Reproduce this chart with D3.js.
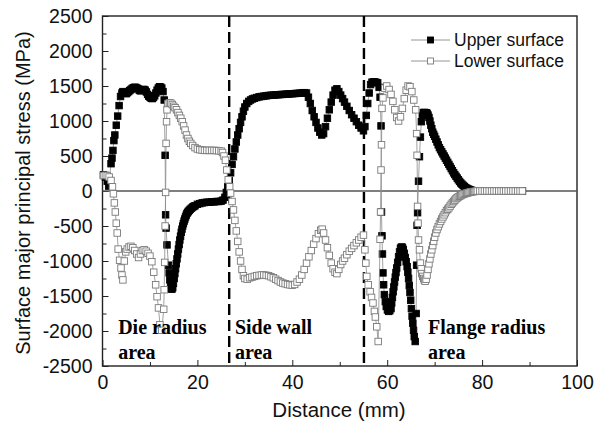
<!DOCTYPE html>
<html>
<head>
<meta charset="utf-8">
<script src="https://cdn.jsdelivr.net/npm/d3@7"></script>
<style>
  html, body { margin: 0; padding: 0; background: #fff; }
  svg { display: block; }
</style>
</head>
<body>
<svg id="chart" width="605" height="430"></svg>
<script>
// distance (mm), stress (MPa)
const upperSurface = [
  [0.2,230],[0.6,200],[1.0,140],[1.3,70],
  [1.8,390],[2.0,470],[2.2,580],[2.4,720],[2.6,800],[2.9,940],[3.2,1070],[3.5,1220],[3.8,1350],[4.1,1400],
  [4.3,1420],[4.5,1410],[4.75,1395],[5.0,1390],[5.25,1405],[5.5,1420],[5.75,1435],[6.0,1450],[6.25,1465],
  [6.5,1475],[6.75,1482],[7.0,1480],[7.25,1470],[7.5,1460],[7.75,1440],[8.0,1430],[8.25,1440],[8.5,1450],
  [8.75,1450],[9.0,1440],[9.25,1415],[9.5,1380],[9.75,1355],[10.0,1340],[10.25,1325],[10.5,1320],
  [10.75,1335],[11.0,1360],[11.25,1400],[11.5,1440],[11.75,1470],[12.0,1490],[12.25,1485],[12.5,1470],
  [12.75,1420],[13.0,1300],
  [13.2,510],[13.3,-340],[13.4,-530],[13.6,-770],[13.9,-1060],[14.05,-1170],[14.2,-1270],[14.35,-1340],
  [14.5,-1400],[14.65,-1400],[14.8,-1380],[14.95,-1320],[15.1,-1250],[15.25,-1180],[15.4,-1110],
  [15.55,-1040],[15.7,-970],[15.85,-900],[16.0,-830],[16.15,-765],[16.3,-700],[16.45,-645],[16.6,-590],
  [16.75,-545],[16.9,-500],[17.05,-465],[17.2,-430],[17.35,-400],[17.5,-370],[17.65,-345],[17.8,-320],
  [17.95,-305],[18.1,-290],[18.3,-275],[18.5,-260],[18.75,-245],[19.0,-230],[19.25,-220],[19.5,-210],
  [20.0,-190],[20.5,-180],
  [21.0,-170],[21.5,-165],[22.0,-160],[22.5,-160],[23.0,-155],[23.5,-155],[24.0,-150],[24.5,-150],
  [25.0,-145],[25.4,-130],[25.8,-90],[26.1,-20],[26.4,60],[26.7,150],[27.0,260],[27.3,380],[27.6,490],
  [27.9,600],[28.2,700],[28.5,800],[28.8,890],[29.1,980],[29.4,1060],[29.7,1140],[30.0,1200],[30.4,1250],
  [30.8,1280],[31.2,1300],[31.6,1315],[32.0,1325],[32.5,1335],[33.0,1345],[33.5,1350],[34.0,1355],
  [34.5,1360],[35.0,1365],[35.5,1368],[36.0,1370],[36.5,1373],[37.0,1375],[37.5,1378],[38.0,1380],
  [38.5,1382],[39.0,1385],[39.5,1388],[40.0,1390],[40.5,1392],[41.0,1395],[41.5,1397],[42.0,1400],
  [42.5,1405],[43.0,1400],[43.4,1340],[43.8,1250],[44.2,1150],[44.6,1060],[45.0,980],[45.4,900],
  [45.8,840],[46.2,800],[46.6,820],[47.0,920],[47.4,1040],[47.8,1160],[48.2,1270],[48.6,1370],[49.0,1440],
  [49.4,1460],[49.8,1420],[50.2,1370],[50.6,1320],[51.0,1270],[51.5,1210],[52.0,1150],[52.5,1090],
  [53.0,1040],[53.5,990],[54.0,940],[54.5,900],[55.0,860],[55.3,920],[55.6,1080],[55.9,1250],[56.2,1400],
  [56.5,1520],[56.8,1555],[57.2,1560],[57.6,1555],[58.0,1545],[58.3,1480],[58.5,1340],[58.7,930],
  [58.8,-300],[58.9,-640],[59.0,-900],[59.1,-1170],[59.25,-1340],[59.4,-1480],[59.6,-1580],[59.8,-1650],
  [60.05,-1700],[60.3,-1720],[60.55,-1710],[60.8,-1680],[60.95,-1600],[61.1,-1520],[61.25,-1440],
  [61.4,-1370],[61.55,-1300],[61.7,-1230],[61.85,-1165],[62.0,-1100],[62.2,-1020],[62.4,-940],
  [62.6,-870],[62.8,-820],[62.95,-805],[63.1,-800],[63.25,-815],[63.4,-840],[63.6,-890],[63.8,-950],
  [64.0,-1010],[64.2,-1080],[64.35,-1160],[64.5,-1250],[64.65,-1350],[64.8,-1450],[64.95,-1560],
  [65.1,-1680],[65.25,-1790],[65.4,-1890],[65.55,-1990],[65.7,-2080],[65.9,-2150],
  [66.1,-1750],[66.2,-1060],[66.3,-490],[66.4,-310],[66.6,140],[66.8,490],[67.0,770],[67.2,990],
  [67.4,1080],[67.6,1120],[67.8,1122],[68.0,1120],[68.2,1118],[68.4,1110],[68.6,1085],[68.8,1050],
  [69.0,1000],[69.2,940],[69.4,890],[69.6,840],[69.8,810],[70.0,780],[70.25,740],[70.5,700],[70.75,660],
  [71.0,620],[71.25,590],[71.5,560],[71.75,530],[72.0,500],[72.25,470],[72.5,440],[72.75,410],[73.0,380],
  [73.25,350],[73.5,320],[73.75,290],[74.0,260],[74.25,235],[74.5,210],[74.75,185],[75.0,160],
  [75.25,137],[75.5,115],[75.75,97],[76.0,80],[76.25,65],[76.5,50],[76.75,40],[77.0,30],[77.25,22],
  [77.5,15],[77.75,10],[78.0,5],[78.25,2],[78.5,0],[79.5,0],[80.5,0],[81.5,0],[82.5,0],
  [83.5,0],[84.5,0],[85.5,0],[86.5,0],[87.5,0],[88.5,0]
];

const lowerSurface = [
  [0.2,220],[0.6,225],[1.0,220],[1.4,200],[1.8,150],[2.1,60],[2.3,-40],[2.5,-170],[2.7,-300],[2.9,-460],
  [3.1,-600],[3.3,-830],[3.6,-990],[3.9,-1100],[4.1,-1200],[4.3,-1270],[4.6,-1000],[4.9,-870],[5.2,-830],
  [5.6,-800],[6.0,-790],[6.4,-810],[6.8,-850],[7.2,-900],[7.6,-950],[8.0,-900],[8.4,-850],[8.8,-840],
  [9.2,-860],[9.6,-890],[10.0,-930],[10.4,-1010],[10.8,-1160],[11.2,-1340],[11.5,-1510],[11.8,-1670],
  [12.1,-1910],[12.5,-1990],[12.9,-1690],[13.0,-1410],[13.1,-1020],[13.2,-500],[13.3,-20],[13.4,680],
  [13.5,990],[13.6,1160],[13.8,1250],[14.1,1260],[14.4,1255],[14.7,1235],[15.0,1210],[15.3,1190],
  [15.6,1160],[15.9,1120],[16.2,1080],[16.5,1040],[16.8,990],[17.1,930],[17.4,870],[17.7,800],[18.0,750],
  [18.3,710],[18.6,680],[19.0,650],[19.5,620],[20.0,600],[20.5,590],[21.0,585],[21.5,580],[22.0,580],
  [22.5,580],[23.0,580],[23.5,580],[24.0,578],[24.5,575],[25.0,570],[25.3,550],[25.6,500],[25.9,440],
  [26.2,300],[26.5,160],[26.8,60],[27.0,-30],[27.3,-150],[27.6,-270],[27.9,-420],[28.2,-570],[28.5,-720],
  [28.8,-870],[29.1,-1000],[29.4,-1120],[29.7,-1210],[30.0,-1250],[30.5,-1260],[31.0,-1240],[31.5,-1230],
  [32.0,-1220],[32.5,-1210],[33.0,-1205],[33.5,-1200],[34.0,-1200],[34.5,-1205],[35.0,-1210],
  [35.5,-1225],[36.0,-1240],[36.5,-1260],[37.0,-1280],[37.5,-1300],[38.0,-1315],[38.5,-1325],
  [39.0,-1335],[39.5,-1340],[40.0,-1345],[40.5,-1335],[41.0,-1300],[41.5,-1260],[42.0,-1200],
  [42.5,-1120],[43.0,-1030],[43.5,-940],[44.0,-850],[44.5,-760],[45.0,-680],[45.5,-610],[46.0,-560],
  [46.3,-545],[46.6,-600],[47.0,-700],[47.4,-810],[47.8,-920],[48.2,-1030],[48.6,-1110],[49.0,-1160],
  [49.4,-1180],[49.8,-1120],[50.2,-1050],[50.6,-1000],[51.0,-960],[51.5,-910],[52.0,-860],[52.5,-820],
  [53.0,-780],[53.5,-740],[54.0,-700],[54.5,-660],[55.0,-630],[55.3,-840],[55.5,-1030],[55.7,-1220],
  [56.0,-1340],[56.4,-1440],[56.7,-1520],[57.0,-1600],[57.3,-1720],[57.5,-1800],[57.8,-1940],[58.1,-2150],
  [58.5,-690],[58.6,-300],[58.7,300],[58.8,660],[58.9,1180],[59.1,1330],[59.5,1470],[59.9,1500],
  [60.4,1450],[60.8,1380],[61.2,1280],[61.6,1160],[62.0,1050],[62.4,1000],[62.8,1060],[63.2,1180],
  [63.6,1320],[64.0,1440],[64.4,1500],[64.8,1490],[65.2,1420],[65.6,1300],[66.0,1160],[66.2,820],
  [66.3,510],[66.4,-220],[66.5,-460],[66.6,-700],[66.8,-840],[67.0,-1030],[67.15,-1110],[67.3,-1180],
  [67.5,-1220],[67.7,-1250],[67.85,-1275],[68.0,-1290],[68.2,-1260],[68.4,-1200],[68.6,-1120],
  [68.8,-1040],[69.0,-970],[69.2,-900],[69.4,-840],[69.6,-780],[69.8,-720],[70.0,-660],[70.25,-600],
  [70.5,-550],[70.75,-510],[71.0,-470],[71.25,-435],[71.5,-400],[71.75,-370],[72.0,-340],[72.25,-310],
  [72.5,-280],[72.75,-260],[73.0,-240],[73.25,-215],[73.5,-190],[73.75,-170],[74.0,-150],[74.25,-130],
  [74.5,-110],[74.75,-97],[75.0,-85],[75.25,-75],[75.5,-65],[75.75,-55],[76.0,-45],[76.25,-40],
  [76.5,-35],[76.75,-30],[77.0,-25],[77.25,-20],[77.5,-15],[77.75,-12],[78.0,-10],[78.25,-7],[78.5,-5],
  [78.75,-2],[79.0,0],[79.5,0],[80.0,0],
  [80.5,0],[81.0,0],[81.5,0],[82.0,0],[82.5,0],[83.0,0],[83.5,0],[84.0,0],[84.5,0],[85.0,0],[85.5,0],
  [86.0,0],[86.5,0],[87.0,0],[87.5,0],[88.0,0],[88.5,0]
];

const xTicks = [0, 20, 40, 60, 80, 100];
const yTicks = [-2500, -2000, -1500, -1000, -500, 0, 500, 1000, 1500, 2000, 2500];
const areaBounds = [26.7, 55.1];
const areaLabels = [
  { x: 3.3, lines: ['Die radius', 'area'] },
  { x: 27.9, lines: ['Side wall', 'area'] },
  { x: 68.6, lines: ['Flange radius', 'area'] }
];
const seriesNames = ['Upper surface', 'Lower surface'];

const svg = d3.select('#chart');
const plotLeft = 102.5, plotRight = 577, plotTop = 16, plotBottom = 366;

const x = d3.scaleLinear().domain([0, 100]).range([plotLeft, plotRight]);
const y = d3.scaleLinear().domain([-2500, 2500]).range([plotBottom, plotTop]);

const sansFont = '"Liberation Sans", Arial, sans-serif';
const serifFont = '"Liberation Serif", "Times New Roman", serif';
const plain = d => String(d);

// minor ticks first, then major axes on top
svg.append('g')
  .attr('transform', `translate(0,${plotBottom})`)
  .call(d3.axisBottom(x).tickValues(d3.range(10, 100, 20)).tickSize(-4).tickFormat(''))
  .call(g => g.select('.domain').remove())
  .selectAll('line').attr('stroke', '#222');

svg.append('g')
  .attr('transform', `translate(${plotLeft},0)`)
  .call(d3.axisLeft(y).tickValues(d3.range(-2250, 2500, 500)).tickSize(-4).tickFormat(''))
  .call(g => g.select('.domain').remove())
  .selectAll('line').attr('stroke', '#222');

const xAxis = svg.append('g')
  .attr('transform', `translate(0,${plotBottom})`)
  .call(d3.axisBottom(x).tickValues(xTicks).tickFormat(plain)
    .tickSizeInner(-6).tickSizeOuter(0).tickPadding(9));

const yAxis = svg.append('g')
  .attr('transform', `translate(${plotLeft},0)`)
  .call(d3.axisLeft(y).tickValues(yTicks).tickFormat(plain)
    .tickSizeInner(-6).tickSizeOuter(0).tickPadding(10));

[xAxis, yAxis].forEach(g => {
  g.select('.domain').remove();
  g.selectAll('line').attr('stroke', '#222');
  g.selectAll('text')
    .attr('fill', '#111')
    .style('font-family', sansFont)
    .style('font-size', '19.5px');
});

// frame
svg.append('rect')
  .attr('x', plotLeft).attr('y', plotTop)
  .attr('width', plotRight - plotLeft).attr('height', plotBottom - plotTop)
  .attr('fill', 'none').attr('stroke', '#222').attr('stroke-width', 1.4);

// zero line
svg.append('line')
  .attr('x1', plotLeft).attr('x2', plotRight)
  .attr('y1', y(0)).attr('y2', y(0))
  .attr('stroke', '#555').attr('stroke-width', 1.5);

// area boundaries
svg.selectAll('line.bound')
  .data(areaBounds)
  .join('line')
  .attr('class', 'bound')
  .attr('x1', d => x(d)).attr('x2', d => x(d))
  .attr('y1', plotTop).attr('y2', plotBottom)
  .attr('stroke', '#000').attr('stroke-width', 2.4)
  .attr('stroke-dasharray', '11,5');

const line = d3.line().x(d => x(d[0])).y(d => y(d[1]));
const markerSize = 6.5;

function drawSeries(data, fill, stroke) {
  const g = svg.append('g');
  g.append('path')
    .attr('d', line(data))
    .attr('fill', 'none')
    .attr('stroke', '#8a8a8a')
    .attr('stroke-width', 0.8);
  g.selectAll('rect')
    .data(data)
    .join('rect')
    .attr('x', d => x(d[0]) - markerSize / 2)
    .attr('y', d => y(d[1]) - markerSize / 2)
    .attr('width', markerSize)
    .attr('height', markerSize)
    .attr('fill', fill)
    .attr('stroke', stroke)
    .attr('stroke-width', 0.9);
}

drawSeries(upperSurface, '#000', '#000');
drawSeries(lowerSurface, '#fff', '#7a7a7a');

// legend
const legend = svg.append('g');
const legendStyles = [
  { fill: '#000', stroke: '#000' },
  { fill: '#fff', stroke: '#7a7a7a' }
];
seriesNames.forEach((name, i) => {
  const ly = 40 + i * 21;
  legend.append('line')
    .attr('x1', 411).attr('x2', 450)
    .attr('y1', ly).attr('y2', ly)
    .attr('stroke', '#8a8a8a').attr('stroke-width', 0.9);
  legend.append('rect')
    .attr('x', 430.5 - 3).attr('y', ly - 3)
    .attr('width', 6).attr('height', 6)
    .attr('fill', legendStyles[i].fill)
    .attr('stroke', legendStyles[i].stroke)
    .attr('stroke-width', 0.9);
  legend.append('text')
    .attr('x', 454).attr('y', ly + 6)
    .attr('fill', '#111')
    .style('font-family', sansFont)
    .style('font-size', '17.5px')
    .text(name);
});

// area annotations
areaLabels.forEach(lbl => {
  lbl.lines.forEach((t, j) => {
    svg.append('text')
      .attr('x', x(lbl.x))
      .attr('y', 334 + j * 25)
      .attr('fill', '#000')
      .style('font-family', serifFont)
      .style('font-weight', 'bold')
      .style('font-size', '20px')
      .text(t);
  });
});

// axis titles
svg.append('text')
  .attr('x', 339)
  .attr('y', 417)
  .attr('text-anchor', 'middle')
  .attr('fill', '#111')
  .style('font-family', sansFont)
  .style('font-size', '20.5px')
  .text('Distance (mm)');

svg.append('text')
  .attr('transform', `translate(30,${(plotTop + plotBottom) / 2 + 2}) rotate(-90)`)
  .attr('text-anchor', 'middle')
  .attr('fill', '#111')
  .style('font-family', sansFont)
  .style('font-size', '20px')
  .text('Surface major principal stress (MPa)');
</script>
</body>
</html>
